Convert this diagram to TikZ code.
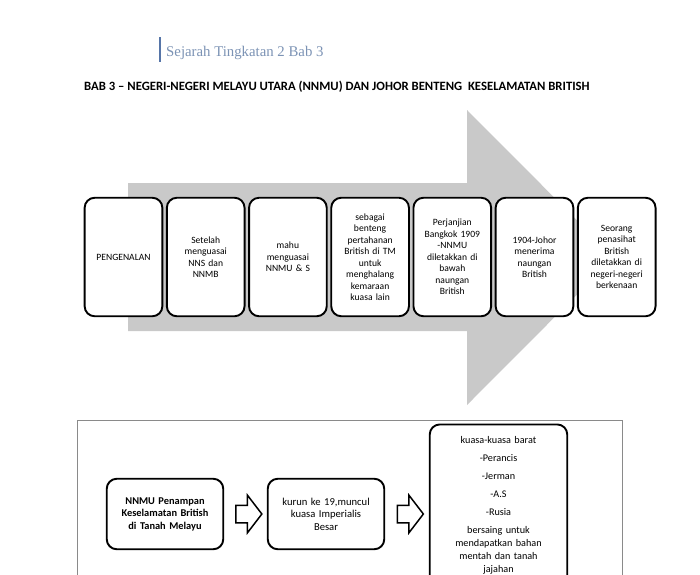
\documentclass[tikz,border=0pt]{standalone}
\usepackage{fontspec}
\setmainfont{Carlito}
\newfontfamily\headfont{Liberation Serif}
\usetikzlibrary{positioning,calc,shapes.arrows}
\definecolor{arrowgray}{HTML}{C9C9C9}
\definecolor{headblue}{HTML}{7C93B5}
\definecolor{barblue}{HTML}{5675A8}
\definecolor{framegray}{HTML}{8A8A8A}

\begin{document}
\begin{tikzpicture}[x=1pt,y=-1pt,
    stepbox/.style={draw=black,line width=1.9pt,rounded corners=10pt,fill=white,
      minimum width=77.7pt,minimum height=118.5pt,text width=74pt,align=center,inner sep=1pt,
      font=\fontsize{9.6}{11.5}\selectfont},
    flowbox/.style={draw=black,line width=1.9pt,rounded corners=10pt,fill=white,
      minimum width=116.5pt,minimum height=70.5pt,text width=112pt,align=center,inner sep=1pt,
      font=\fontsize{10.6}{12.5}\selectfont},
    hollowarrow/.style={single arrow,draw=black,line width=1.5pt,fill=white,inner sep=8pt,
      minimum height=26pt,minimum width=37pt,single arrow head extend=10pt,
      single arrow tip angle=105}]
  \useasboundingbox (0,0) rectangle (700,574);
  \clip (0,0) rectangle (700,574);
  \fill[white] (0,0) rectangle (700,574);

  \draw[barblue,line width=1.5pt] (160,37) -- (160,62);
  \node[anchor=base west,inner sep=0pt,text=headblue,font=\headfont\fontsize{14.8}{16}\selectfont] (head) at (166,56) {Sejarah Tingkatan 2 Bab 3};
  \node[anchor=west,inner sep=0pt,font=\bfseries\fontsize{12.7}{14}\selectfont] (title) at (84,87) {BAB 3 -- NEGERI-NEGERI MELAYU UTARA (NNMU) DAN JOHOR BENTENG\ \ KESELAMATAN BRITISH};

  \fill[arrowgray] (128,183) -- (467,183) -- (467,110) -- (614,257.5) -- (467,405) -- (467,331) -- (128,331) -- cycle;

  \node[stepbox] (intro) at (123.5,257) {PENGENALAN};
  \node[stepbox,right=2.6pt of intro] (nns) {Setelah\\ menguasai\\ NNS dan\\ NNMB};
  \node[stepbox,right=2.6pt of nns] (nnmu) {mahu\\ menguasai\\ NNMU \& S};
  \node[stepbox,right=2.6pt of nnmu] (benteng) {sebagai\\ benteng\\ pertahanan\\ British di TM\\ untuk\\ menghalang\\ kemaraan\\ kuasa lain};
  \node[stepbox,right=2.6pt of benteng] (bangkok) {Perjanjian\\ Bangkok 1909\\ -NNMU\\ diletakkan di\\ bawah\\ naungan\\ British};
  \node[stepbox,right=2.6pt of bangkok] (johor) {1904-Johor\\ menerima\\ naungan\\ British};
  \node[stepbox,right=2.6pt of johor] (penasihat) {Seorang\\ penasihat\\ British\\ diletakkan di\\ negeri-negeri\\ berkenaan};

  \draw[framegray,line width=0.9pt] (77,420) rectangle (622,590);

  \node[flowbox,font=\bfseries\fontsize{10.4}{12.5}\selectfont] (penampan) at (165,514) {NNMU Penampan\\ Keselamatan British\\ di Tanah Melayu};
  \node[flowbox] (kurun) at (326,514) {kurun ke 19,muncul\\ kuasa Imperialis\\ Besar};
  \node[flowbox,anchor=north,minimum width=137.5pt,text width=132pt,minimum height=162pt,
    font=\fontsize{10.2}{13}\selectfont] (barat) at (498.5,423.5)
    {kuasa-kuasa barat\\[5pt] -Perancis\\[5pt] -Jerman\\[5pt] -A.S\\[5pt] -Rusia\\[5pt] bersaing untuk\\ mendapatkan bahan\\ mentah dan tanah\\ jajahan};

  \node[hollowarrow] (arA) at ($(penampan.east)!0.5!(kurun.west)$) {};
  \node[hollowarrow] (arB) at ($(kurun.east)!0.5!(barat.west|-kurun.east)$) {};
\end{tikzpicture}
\end{document}
